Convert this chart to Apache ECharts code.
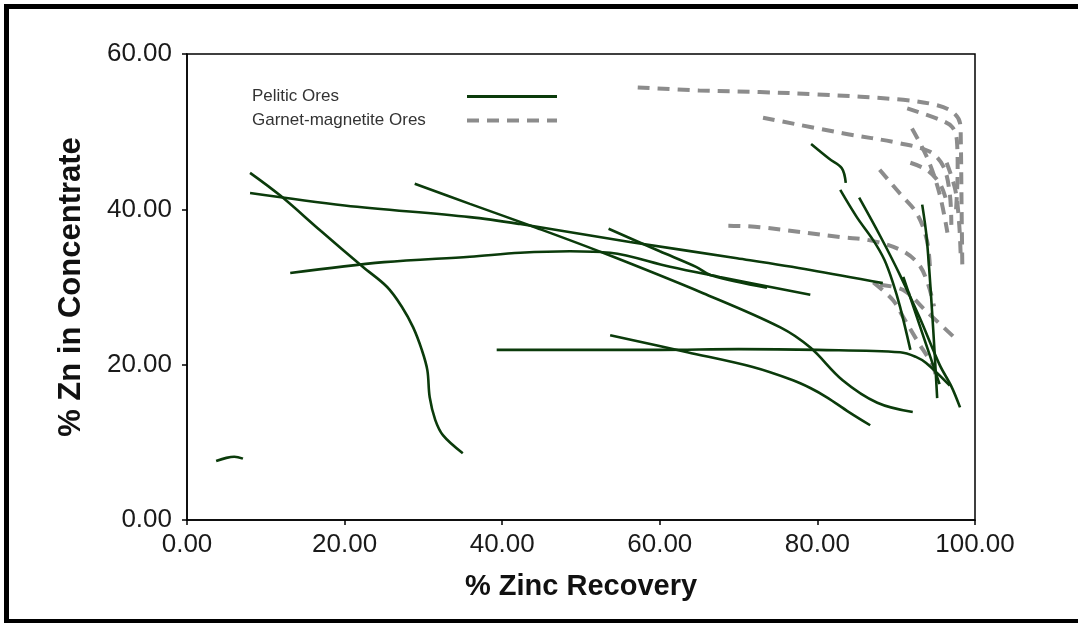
<!DOCTYPE html>
<html><head><meta charset="utf-8">
<script src="https://cdn.jsdelivr.net/npm/echarts@6/dist/echarts.min.js"></script>
<style>
html,body{margin:0;padding:0;background:#fff;}
#frame{position:absolute;left:4px;top:4px;width:1069px;height:610px;border:5px solid #000;border-right-width:4px;}
#chart{position:absolute;left:0;top:0;width:1078px;height:623px;}
</style></head><body>
<div id="frame"></div>
<div id="chart"></div>
<script>
// ---- data ----
var xTicks = ['0.00','20.00','40.00','60.00','80.00','100.00'];
var yTicks = ['0.00','20.00','40.00','60.00'];
var pelitic = [
  [[3.7,7.6],[5.0,8.0],[6.0,8.15],[7.1,7.9]],
  [[8.0,44.7],[11.8,41.8],[17,37.2],[22.3,32.6],[25.4,30.0],[27.3,27.4],[28.7,24.8],[29.8,21.9],[30.5,19.3],[30.8,15.8],[31.5,12.9],[32.5,10.9],[35.0,8.6]],
  [[8.0,42.1],[20,40.5],[35.9,39.0],[42.3,38.1],[56.2,35.8],[69.8,33.7],[79.1,32.2],[88.3,30.5]],
  [[13.1,31.8],[25,33.2],[35.9,33.9],[42.3,34.4],[48.6,34.6],[53.7,34.4],[61.3,32.6],[67.6,31.3],[79.1,29.0]],
  [[28.9,43.3],[35.9,40.7],[44.4,37.6],[52.8,34.4],[65.5,29.2],[75.3,24.8],[79.1,22.2],[83.2,18.0],[87.6,15.1],[92.1,13.9]],
  [[53.5,37.5],[60,34.6],[64.6,32.6],[66.5,31.5],[73.6,29.9]],
  [[39.3,21.9],[60,21.9],[70,22.0],[80,21.9],[90.5,21.6],[92.5,21.0],[93.8,20.2],[96.8,17.3]],
  [[53.7,23.8],[63.5,21.6],[71.8,19.7],[76.9,18.0],[79.1,17.0],[81.2,15.8],[84,13.9],[86.7,12.2]],
  [[79.2,48.4],[81.5,46.5],[83.1,45.3],[83.6,43.4]],
  [[82.9,42.5],[85,39],[87.1,36],[88.5,33.5],[89.6,30.5],[90.5,27.4],[91.8,21.9]],
  [[85.3,41.5],[88,36.5],[90.5,31.5],[93,26],[95.5,20],[97,17.2],[98.1,14.5]],
  [[93.3,40.6],[93.9,36.0],[94.7,24.5],[95.2,15.7]],
  [[90.9,31.3],[93,25],[95.5,17.5]]
];
var garnet = [
  [[57.2,55.7],[65,55.3],[72.7,55.1],[80,54.8],[90.9,54.1],[95.2,53.4],[97.2,52.5],[98.1,51.1],[98.2,48.9],[98.3,40],[98.4,32]],
  [[91.4,53.0],[95.6,51.5],[97.1,50.6],[97.7,48.9],[97.8,45],[97.6,40]],
  [[73.1,51.8],[83.2,49.8],[90.5,48.5],[94.3,47.4],[96,45.5],[96.8,42],[97,38]],
  [[92,50.4],[94,46.5],[95.5,42],[96.5,37]],
  [[91.8,46.0],[94.0,45.0],[95.6,43.2],[96.4,41.0]],
  [[96.4,46.0],[97.5,42.5],[98.0,38.0],[98.2,33.5]],
  [[87.9,45.1],[90.5,42],[92.6,39.5],[93.9,36.0],[94.3,32.2]],
  [[68.7,37.9],[72.7,37.7],[83.2,36.4],[86.7,36.0],[90.5,34.8],[92.8,33.0],[94.0,30.5],[94.8,27.5]],
  [[87.9,30.3],[90.9,29.6],[93.9,26.8],[97.7,23.2]],
  [[87.1,30.6],[89.6,28.3],[90.9,26.1],[92.6,23.2],[94.7,19.7],[95.2,17.6]]
];
var names = ['Pelitic Ores','Garnet-magnetite Ores'];
var green = '#0b3b0b', gray = '#8c8c8c';

var series = [];
pelitic.forEach(function(d){
  series.push({name:names[0],type:'line',data:d,symbol:'none',smooth:0.35,
    lineStyle:{color:green,width:2.6},itemStyle:{color:green},z:3,silent:true});
});
garnet.forEach(function(d){
  series.push({name:names[1],type:'line',data:d,symbol:'none',smooth:0.35,
    lineStyle:{color:gray,width:4,type:[12,8]},itemStyle:{color:gray},z:2,silent:true});
});

var chart = echarts.init(document.getElementById('chart'),null,{renderer:'canvas'});
chart.setOption({
  animation:false,
  backgroundColor:'transparent',
  grid:{left:187,right:103,top:54,bottom:103,show:true,borderColor:'#000',borderWidth:1.5,backgroundColor:'transparent'},
  legend:{
    orient:'vertical',left:247,top:83,align:'right',itemWidth:90,itemHeight:14,itemGap:7,
    data:[
      {name:names[0],lineStyle:{color:green,width:3,type:'solid'}},
      {name:names[1],lineStyle:{color:gray,width:4,type:[12,8]}}
    ],
    itemStyle:{opacity:0,borderWidth:0},
    formatter:function(n){return '{t|'+n+'}';},
    textStyle:{fontFamily:'Liberation Sans, Arial',fontSize:17,color:'#333',
      rich:{t:{width:210,align:'left',fontFamily:'Liberation Sans, Arial',fontSize:17,color:'#333'}}},
    selectedMode:false
  },
  xAxis:{type:'value',min:0,max:100,interval:20,
    axisLine:{lineStyle:{color:'#000',width:1.5}},
    axisTick:{show:true,length:5,lineStyle:{color:'#000',width:1.5}},
    splitLine:{show:false},
    axisLabel:{margin:12,fontFamily:'Liberation Sans, Arial',fontSize:26,color:'#1a1a1a',
      formatter:function(v){return xTicks[Math.round(v/20)];}},
    name:'% Zinc Recovery',nameLocation:'middle',nameGap:52,
    nameTextStyle:{fontFamily:'Liberation Sans, Arial',fontWeight:'bold',fontSize:29,color:'#111'}
  },
  yAxis:{type:'value',min:0,max:60,interval:20,
    axisLine:{lineStyle:{color:'#000',width:1.5}},
    axisTick:{show:true,length:5,lineStyle:{color:'#000',width:1.5}},
    splitLine:{show:false},
    axisLabel:{margin:15,fontFamily:'Liberation Sans, Arial',fontSize:26,color:'#1a1a1a',
      formatter:function(v){return yTicks[Math.round(v/20)];}},
    name:'% Zn in Concentrate',nameLocation:'middle',nameGap:100,
    nameTextStyle:{fontFamily:'Liberation Sans, Arial',fontWeight:'bold',fontSize:31,color:'#111'}
  },
  series:series
});
</script>
</body></html>
